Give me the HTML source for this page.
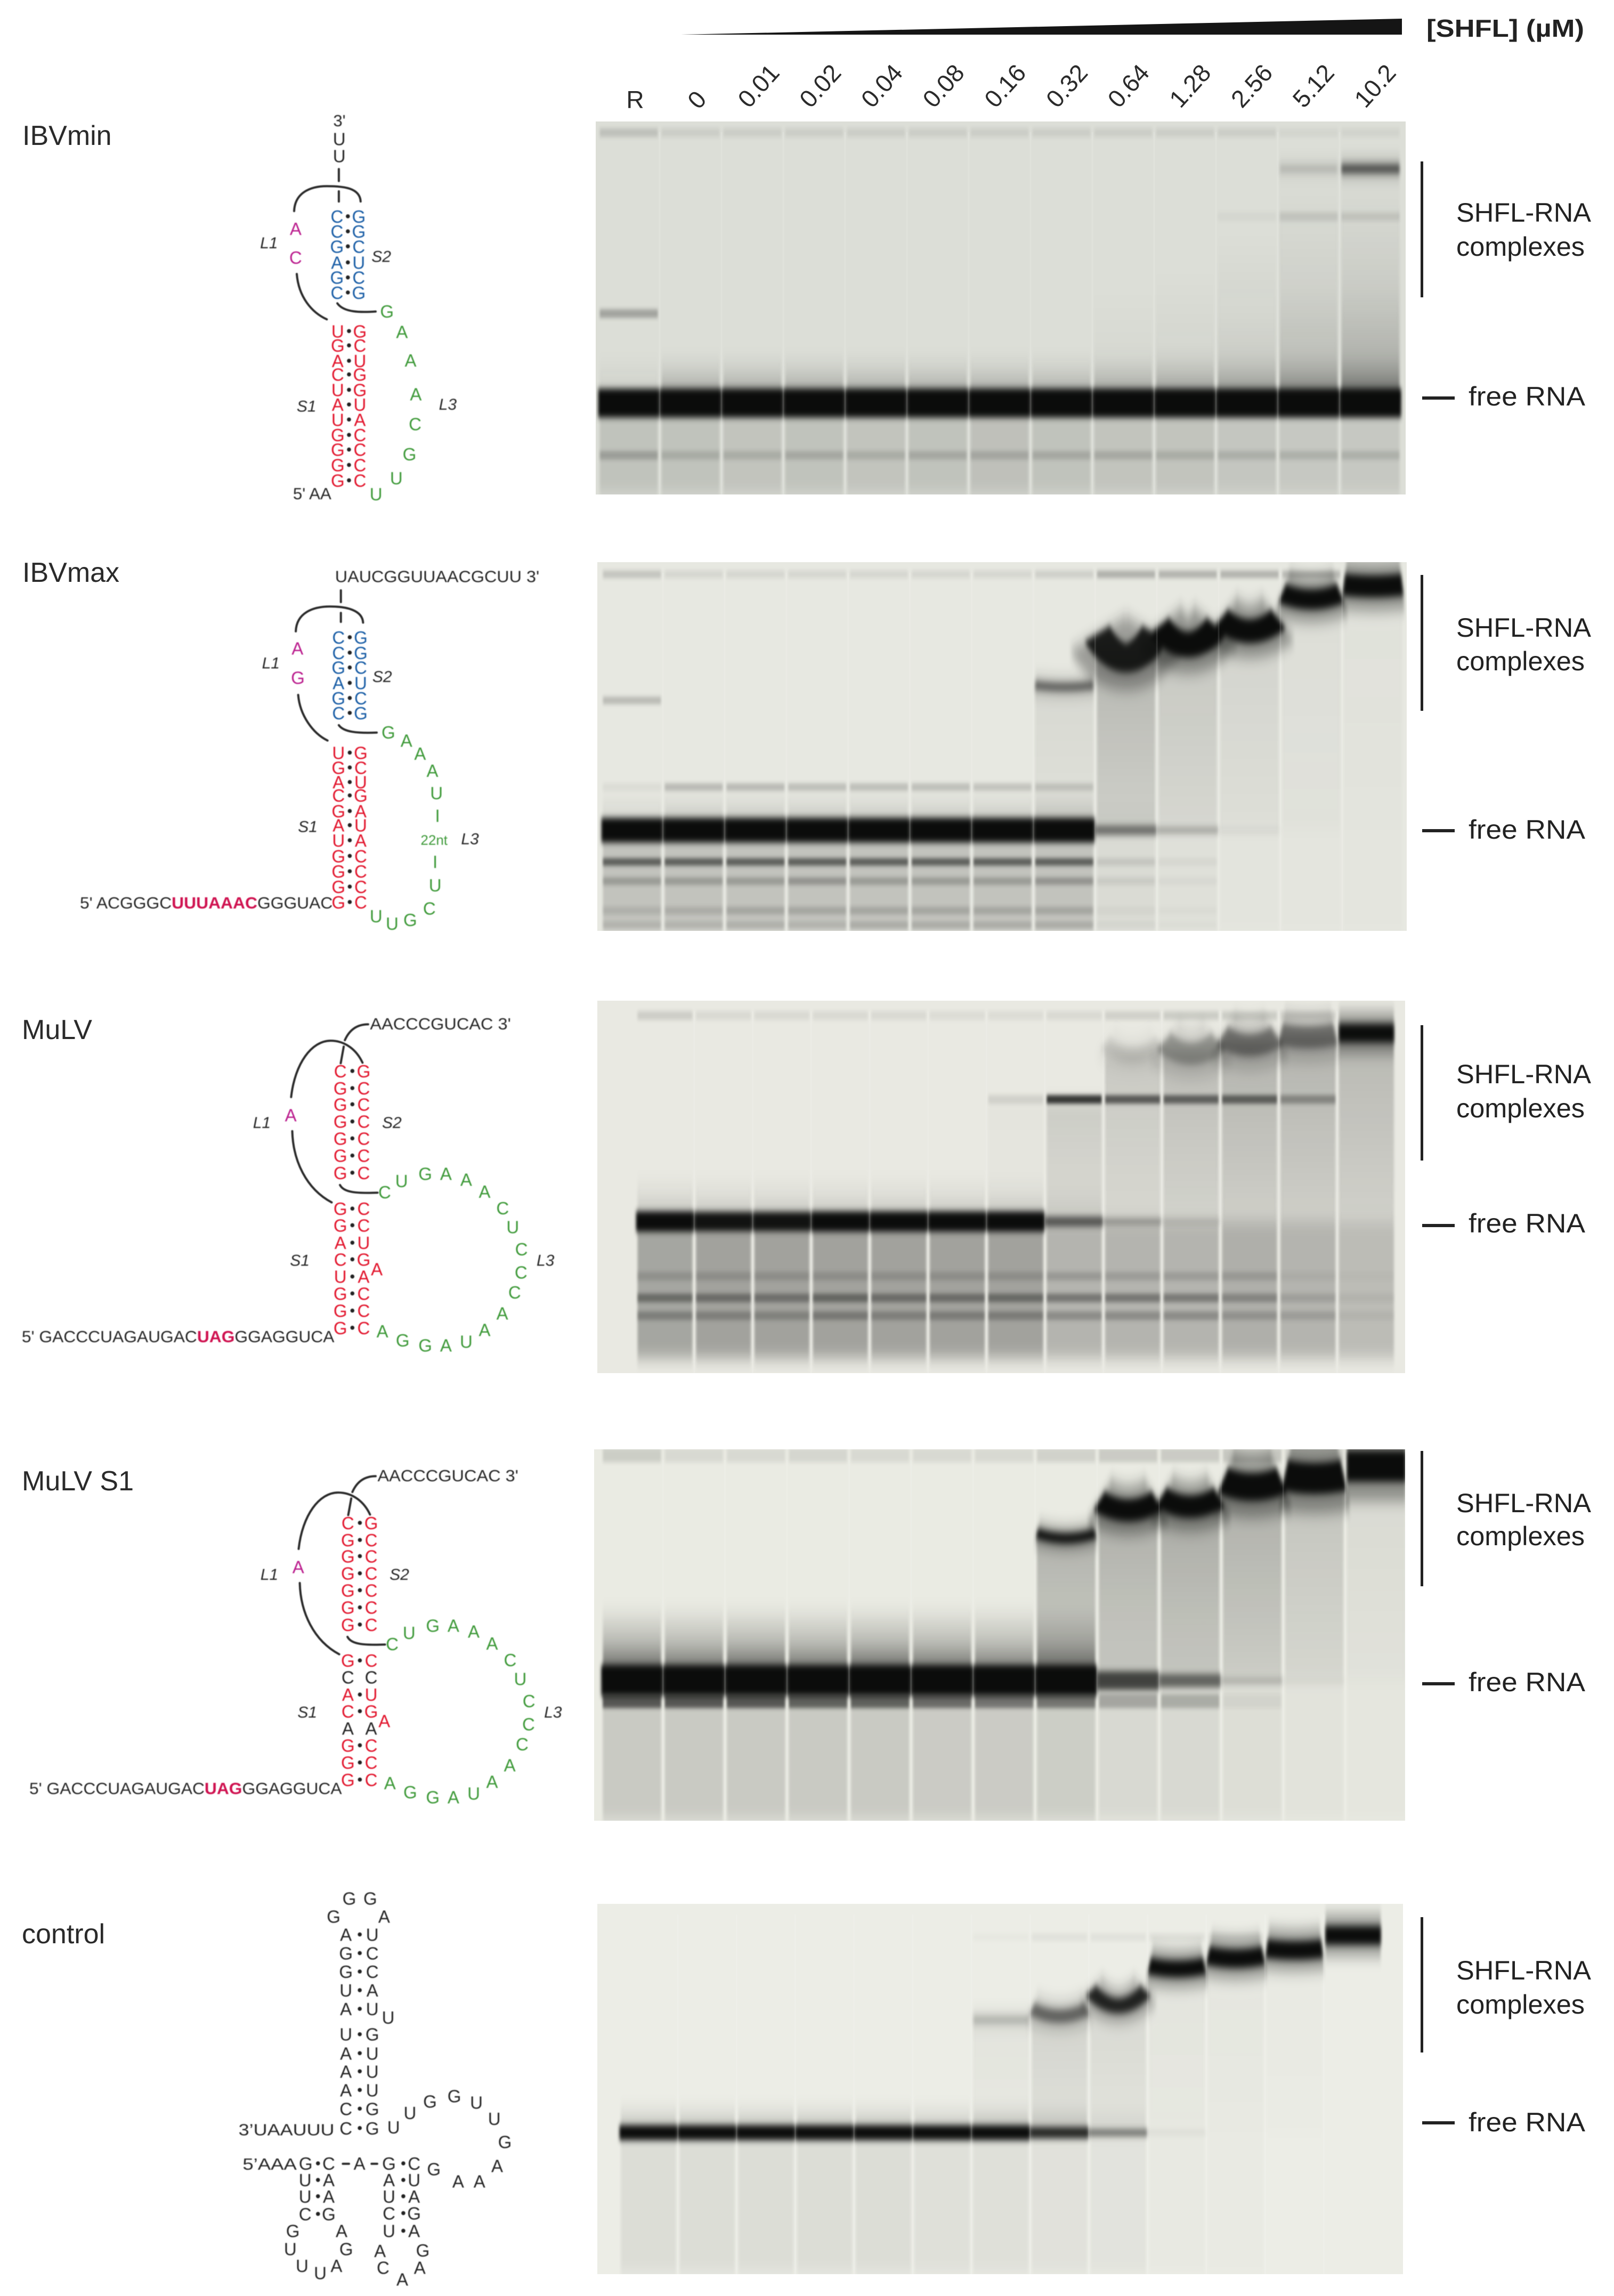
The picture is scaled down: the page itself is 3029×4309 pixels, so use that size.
<!DOCTYPE html>
<html lang="en">
<head>
<meta charset="utf-8">
<title>SHFL-RNA gel shift assays</title>
<style>
html,body{margin:0;padding:0;background:#fff;}
svg{display:block;font-family:"Liberation Sans",Arial,sans-serif;}
.ann{font-size:50px;fill:#222;}
.title{font-size:52px;fill:#2a2a2a;}
</style>
</head>
<body>
<svg id="figure" xmlns="http://www.w3.org/2000/svg" width="3029" height="4309" viewBox="0 0 3029 4309">
<defs>
<filter id="smearBlur" color-interpolation-filters="sRGB" filterUnits="userSpaceOnUse" x="0" y="0" width="3029" height="4309"><feGaussianBlur stdDeviation="2.5 14"/></filter>
<filter id="minorBlur" color-interpolation-filters="sRGB" filterUnits="userSpaceOnUse" x="0" y="0" width="3029" height="4309"><feGaussianBlur stdDeviation="2 4"/></filter>
<filter id="complexBlur" color-interpolation-filters="sRGB" filterUnits="userSpaceOnUse" x="0" y="0" width="3029" height="4309"><feGaussianBlur stdDeviation="3 7"/></filter>
<filter id="freeBlur" color-interpolation-filters="sRGB" filterUnits="userSpaceOnUse" x="0" y="0" width="3029" height="4309"><feGaussianBlur stdDeviation="3 6"/></filter>
<filter id="textSoft" color-interpolation-filters="sRGB" filterUnits="userSpaceOnUse" x="0" y="0" width="3029" height="4309"><feGaussianBlur stdDeviation="0.7"/></filter>
<linearGradient id="upFade" x1="0" y1="0" x2="0" y2="1"><stop offset="0" stop-color="#0b0c0b" stop-opacity="0"/><stop offset="0.5" stop-color="#0b0c0b" stop-opacity="0.3"/><stop offset="1" stop-color="#0b0c0b" stop-opacity="1"/></linearGradient>
<linearGradient id="downFade" x1="0" y1="0" x2="0" y2="1"><stop offset="0" stop-color="#0b0c0b" stop-opacity="1"/><stop offset="1" stop-color="#0b0c0b" stop-opacity="0.5"/></linearGradient>
</defs>
<rect x="0" y="0" width="3029" height="4309" fill="#ffffff"/>
<g id="gels"></g>
<g id="structures" filter="url(#textSoft)"></g>
<g id="ticks"></g>

<polygon points="1278,65 2631,35 2631,65" fill="#151515"/>
<text x="2677" y="69" font-size="46" font-weight="bold" fill="#222" textLength="296" lengthAdjust="spacingAndGlyphs">[SHFL] (µM)</text>

<text class="title" x="42" y="272">IBVmin</text>
<text class="title" x="42" y="1092">IBVmax</text>
<text class="title" x="41" y="1950">MuLV</text>
<text class="title" x="41" y="2797">MuLV S1</text>
<text class="title" x="41" y="3647">control</text>

<g>
<rect x="2666" y="303" width="5" height="255" fill="#222"/>
<text class="ann" x="2733" y="416" textLength="253" lengthAdjust="spacingAndGlyphs">SHFL-RNA</text>
<text class="ann" x="2733" y="480" textLength="241" lengthAdjust="spacingAndGlyphs">complexes</text>
<rect x="2669" y="744" width="61" height="6" fill="#222"/>
<text class="ann" x="2756" y="761" textLength="219" lengthAdjust="spacingAndGlyphs">free RNA</text>
</g>
<g>
<rect x="2666" y="1079" width="5" height="255" fill="#222"/>
<text class="ann" x="2733" y="1195" textLength="253" lengthAdjust="spacingAndGlyphs">SHFL-RNA</text>
<text class="ann" x="2733" y="1258" textLength="241" lengthAdjust="spacingAndGlyphs">complexes</text>
<rect x="2669" y="1556" width="61" height="6" fill="#222"/>
<text class="ann" x="2756" y="1574" textLength="219" lengthAdjust="spacingAndGlyphs">free RNA</text>
</g>
<g>
<rect x="2666" y="1924" width="5" height="254" fill="#222"/>
<text class="ann" x="2733" y="2033" textLength="253" lengthAdjust="spacingAndGlyphs">SHFL-RNA</text>
<text class="ann" x="2733" y="2097" textLength="241" lengthAdjust="spacingAndGlyphs">complexes</text>
<rect x="2669" y="2297" width="61" height="6" fill="#222"/>
<text class="ann" x="2756" y="2313" textLength="219" lengthAdjust="spacingAndGlyphs">free RNA</text>
</g>
<g>
<rect x="2666" y="2723" width="5" height="254" fill="#222"/>
<text class="ann" x="2733" y="2838" textLength="253" lengthAdjust="spacingAndGlyphs">SHFL-RNA</text>
<text class="ann" x="2733" y="2900" textLength="241" lengthAdjust="spacingAndGlyphs">complexes</text>
<rect x="2669" y="3157" width="61" height="6" fill="#222"/>
<text class="ann" x="2756" y="3174" textLength="219" lengthAdjust="spacingAndGlyphs">free RNA</text>
</g>
<g>
<rect x="2666" y="3598" width="5" height="254" fill="#222"/>
<text class="ann" x="2733" y="3715" textLength="253" lengthAdjust="spacingAndGlyphs">SHFL-RNA</text>
<text class="ann" x="2733" y="3779" textLength="241" lengthAdjust="spacingAndGlyphs">complexes</text>
<rect x="2669" y="3981" width="61" height="6" fill="#222"/>
<text class="ann" x="2756" y="4000" textLength="219" lengthAdjust="spacingAndGlyphs">free RNA</text>
</g>
</svg>

<script>
/* ---------- gel data: one value per lane (R, 0 ... 10.2) ---------- */
const concentrationLabels = ['R','0','0.01','0.02','0.04','0.08','0.16','0.32','0.64','1.28','2.56','5.12','10.2'];

/* IBVmin */
const ibvminFree        = [1,1,1,1,1,1,1,1,1,1,1,1,1];
const ibvminUpperSmear  = [.12,.42,.42,.42,.4,.4,.4,.38,.38,.4,.42,.5,.6];
const ibvminLowerSmear  = [.13,.13,.12,.13,.12,.13,.14,.13,.12,.12,.11,.1,.1];
const ibvminComplexMig  = [0,0,0,0,0,0,0,0,.45,.4,.3,.127,.127];
const ibvminComplexBand = [0,0,0,0,0,0,0,0,0,0,0,.16,.7];
const ibvminComplexThick= [0,0,0,0,0,0,0,0,0,0,0,.02,.02];
const ibvminComplexBow  = [0,0,0,0,0,0,0,0,0,0,0,0,0];
const ibvminTail        = [0,0,0,0,0,0,0,0,.06,.09,.13,.2,.28];
const ibvminBandMigs    = [.03,.255,.515,.895];
const ibvminWellBand    = [.14,.08,.08,.08,.08,.08,.08,.08,.08,.08,.08,.04,.05];
const ibvminSecondBand  = [0,0,0,0,0,0,0,0,0,0,.03,.1,.1];
const ibvminLadderBand  = [.28,0,0,0,0,0,0,0,0,0,0,0,0];
const ibvminLowerBand   = [.2,.13,.13,.15,.13,.15,.15,.15,.15,.13,.13,.13,.13];

/* IBVmax */
const ibvmaxFree        = [1,1,1,1,1,1,1,1,.5,.28,.05,0,0];
const ibvmaxUpperSmear  = [.15,.25,.25,.25,.25,.25,.25,.28,.05,0,0,0,0];
const ibvmaxLowerSmear  = [.17,.17,.17,.17,.17,.17,.17,.17,.06,.03,.015,.01,.01];
const ibvmaxComplexMig  = [0,0,0,0,0,0,0,.337,.235,.205,.175,.095,.064];
const ibvmaxComplexBand = [0,0,0,0,0,0,0,.6,.9,1,1,1,1];
const ibvmaxComplexThick= [0,0,0,0,0,0,0,.02,.08,.07,.065,.055,.06];
const ibvmaxComplexBow  = [0,0,0,0,0,0,0,.003,.04,.03,.02,.01,.003];
const ibvmaxTail        = [0,0,0,0,0,0,0,.07,.22,.15,.09,.05,.03];
const ibvmaxBandMigs    = [.033,.375,.61,.813,.865,.945,.985];
const ibvmaxWellBand    = [.16,.08,.08,.08,.08,.08,.08,.11,.25,.24,.24,.2,0];
const ibvmaxLadderBand  = [.2,0,0,0,0,0,0,0,0,0,0,0,0];
const ibvmaxUpperBand   = [.05,.2,.2,.18,.18,.18,.16,.14,0,0,0,0,0];
const ibvmaxLowerA      = [.55,.55,.55,.55,.55,.55,.55,.55,.1,.04,0,0,0];
const ibvmaxLowerB      = [.22,.22,.22,.26,.22,.22,.22,.26,.08,.03,0,0,0];
const ibvmaxLowerC      = [.1,.12,.16,.16,.16,.16,.16,.16,.03,.02,0,0,0];
const ibvmaxLowerD      = [.12,.12,.14,.12,.16,.16,.16,.16,.04,.02,0,0,0];

/* MuLV */
const mulvFree        = [1,.97,.97,1,1,1,1,.6,.32,.15,0,0,0];
const mulvUpperSmear  = [.22,.2,.2,.2,.2,.2,.2,.1,.02,0,0,0,0];
const mulvLowerSmear  = [.3,.32,.32,.32,.32,.32,.32,.24,.24,.24,.26,.24,.2];
const mulvComplexMig  = [0,0,0,0,0,0,.27,.27,.135,.13,.11,.095,.087];
const mulvComplexBand = [0,0,0,0,0,0,0,0,.1,.3,.45,.45,1];
const mulvComplexThick= [0,0,0,0,0,0,0,0,.04,.06,.06,.06,.05];
const mulvComplexBow  = [0,0,0,0,0,0,0,0,.02,.02,.015,.005,0];
const mulvTail        = [0,0,0,0,0,0,.02,.13,.15,.2,.24,.24,.22];
const mulvBandMigs    = [.04,.265,.74,.798,.846];
const mulvWellBand    = [.12,.07,.07,.07,.07,.06,.06,.07,.11,.13,.13,.11,0];
const mulvShiftBand   = [0,0,0,0,0,0,.1,.8,.6,.55,.55,.32,0];
const mulvLowerA      = [.14,.14,.14,.14,.14,.14,.14,.16,.14,.14,.14,.05,.02];
const mulvLowerB      = [.38,.36,.34,.4,.36,.36,.38,.36,.36,.34,.26,.12,.05];
const mulvLowerC      = [.26,.24,.22,.28,.24,.26,.26,.24,.24,.24,.18,.14,.05];

/* MuLV S1 */
const mulvs1Free        = [1,1,1,1,1,1,1,1,.72,.55,.18,.03,0];
const mulvs1UpperSmear  = [.75,.7,.75,.7,.75,.7,.65,.7,.05,.03,0,0,0];
const mulvs1LowerSmear  = [.15,.15,.15,.15,.15,.14,.14,.13,.08,.08,.06,.03,.02];
const mulvs1ComplexMig  = [0,0,0,0,0,0,0,.235,.155,.145,.095,.075,.045];
const mulvs1ComplexBand = [0,0,0,0,0,0,0,1,1,1,1,1,1];
const mulvs1ComplexThick= [0,0,0,0,0,0,0,.026,.06,.06,.075,.085,.085];
const mulvs1ComplexBow  = [0,0,0,0,0,0,0,.008,.015,.015,.01,.005,0];
const mulvs1Tail        = [0,0,0,0,0,0,0,.25,.27,.29,.27,.18,.08];
const mulvs1BandMigs    = [.016,.678];
const mulvs1WellBand    = [.13,.08,.08,.09,.08,.08,.08,.11,.14,.14,.16,.1,0];
const mulvs1LowerBand   = [.6,.6,.6,.55,.55,.5,.45,.45,.25,.22,.05,0,0];

/* control */
const controlFree        = [1,1,1,1,1,1,1,.85,.55,.08,0,0,0];
const controlUpperSmear  = [.3,.3,.3,.3,.3,.25,.3,.25,.1,0,0,0,0];
const controlLowerSmear  = [.07,.07,.07,.07,.07,.06,.06,.05,.04,.015,.01,0,0];
const controlComplexMig  = [0,0,0,0,0,0,.313,.296,.26,.173,.145,.124,.085];
const controlComplexBand = [0,0,0,0,0,0,.22,.5,.85,1,1,1,1];
const controlComplexThick= [0,0,0,0,0,0,.02,.035,.04,.045,.05,.05,.05];
const controlComplexBow  = [0,0,0,0,0,0,0,.012,.025,.005,.005,.003,0];
const controlTail        = [0,0,0,0,0,0,.04,.11,.09,.04,.03,.015,0];
const controlBandMigs    = [.09];
const controlWellBand    = [0,0,0,0,0,0,.02,.05,.05,.06,.05,0,0];

/* ---------- gel layout ---------- */
const gels = [
 {name:'ibvmin',  x:1118,y:228, w:1520,h:700,bg:'#dcded7',laneStart:1180,laneStep:116,  freeMig:.755,freeThick:54,upSpan:90, smearEnd:1,bandH:16,tailFill:'url(#upFade)',
  free:ibvminFree,upper:ibvminUpperSmear,lower:ibvminLowerSmear,cMig:ibvminComplexMig,cBand:ibvminComplexBand,cThick:ibvminComplexThick,cBow:ibvminComplexBow,tail:ibvminTail,
  migs:ibvminBandMigs,bands:[ibvminWellBand,ibvminSecondBand,ibvminLadderBand,ibvminLowerBand]},
 {name:'ibvmax',  x:1121,y:1055,w:1519,h:692,bg:'#e7e8e1',laneStart:1186,laneStep:115.9,freeMig:.727,freeThick:46,upSpan:75, smearEnd:1,bandH:14,tailFill:'url(#downFade)',
  free:ibvmaxFree,upper:ibvmaxUpperSmear,lower:ibvmaxLowerSmear,cMig:ibvmaxComplexMig,cBand:ibvmaxComplexBand,cThick:ibvmaxComplexThick,cBow:ibvmaxComplexBow,tail:ibvmaxTail,
  migs:ibvmaxBandMigs,bands:[ibvmaxWellBand,ibvmaxLadderBand,ibvmaxUpperBand,ibvmaxLowerA,ibvmaxLowerB,ibvmaxLowerC,ibvmaxLowerD]},
 {name:'mulv',    x:1121,y:1878,w:1516,h:699,bg:'#e9e9e2',laneStart:1248,laneStep:109.7,freeMig:.593,freeThick:38,upSpan:85, smearEnd:.96,bandH:16,tailFill:'url(#downFade)',
  free:mulvFree,upper:mulvUpperSmear,lower:mulvLowerSmear,cMig:mulvComplexMig,cBand:mulvComplexBand,cThick:mulvComplexThick,cBow:mulvComplexBow,tail:mulvTail,
  migs:mulvBandMigs,bands:[mulvWellBand,mulvShiftBand,mulvLowerA,mulvLowerB,mulvLowerC]},
 {name:'mulv-s1', x:1115,y:2720,w:1522,h:697,bg:'#eaebe3',laneStart:1186,laneStep:116.4,freeMig:.623,freeThick:58,upSpan:140,smearEnd:1,bandH:26,tailFill:'url(#downFade)',
  free:mulvs1Free,upper:mulvs1UpperSmear,lower:mulvs1LowerSmear,cMig:mulvs1ComplexMig,cBand:mulvs1ComplexBand,cThick:mulvs1ComplexThick,cBow:mulvs1ComplexBow,tail:mulvs1Tail,
  migs:mulvs1BandMigs,bands:[mulvs1WellBand,mulvs1LowerBand]},
 {name:'control', x:1121,y:3573,w:1512,h:695,bg:'#ecede6',laneStart:1217,laneStep:110.2,freeMig:.618,freeThick:28,upSpan:55, smearEnd:1,bandH:14,tailFill:'url(#downFade)',
  free:controlFree,upper:controlUpperSmear,lower:controlLowerSmear,cMig:controlComplexMig,cBand:controlComplexBand,cThick:controlComplexThick,cBow:controlComplexBow,tail:controlTail,
  migs:controlBandMigs,bands:[controlWellBand]}
];

const SVGNS = 'http://www.w3.org/2000/svg';
const DARK = '#0b0c0b';
function svgEl(tag, attrs, parent){
  const el = document.createElementNS(SVGNS, tag);
  for (const k in attrs) el.setAttribute(k, attrs[k]);
  parent.appendChild(el);
  return el;
}
/* axis functions */
function laneX(gel, i){ return gel.laneStart + i * gel.laneStep; }
function migY(gel, m){ return gel.y + m * gel.h; }
function shade(v){ return Math.max(0, Math.min(1, v)); }

function drawGel(gel){
  const root = document.getElementById('gels');
  const g = svgEl('g', {}, root);
  
  
  const bg = svgEl('rect', {x:gel.x, y:gel.y, width:gel.w, height:gel.h, fill:gel.bg}, g);
  
  

  const clipId = 'clip-' + gel.name;
  const cp = svgEl('clipPath', {id:clipId}, g);
  svgEl('rect', {x:gel.x, y:gel.y, width:gel.w, height:gel.h}, cp);
  const clipper = svgEl('g', {'clip-path':'url(#' + clipId + ')'}, g);

  const smearLayer = svgEl('g', {filter:'url(#smearBlur)'}, clipper);
  const minorLayer = svgEl('g', {filter:'url(#minorBlur)'}, clipper);
  const complexLayer = svgEl('g', {filter:'url(#complexBlur)'}, clipper);
  const freeLayer = svgEl('g', {filter:'url(#freeBlur)'}, clipper);
  const laneW = gel.laneStep * 0.94;
  const freeTop = migY(gel, gel.freeMig);

  concentrationLabels.forEach(function(label, i){
    const cx = laneX(gel, i);
    if (gel.lower[i] > 0){
      const endY = migY(gel, gel.smearEnd);
      const r = svgEl('rect', {x:cx-laneW/2, y:freeTop, width:laneW, height:endY-freeTop, fill:DARK, opacity:shade(gel.lower[i])}, smearLayer);
      
      
    }
    if (gel.tail[i] > 0){
      const ty = migY(gel, gel.cMig[i]);
      const r = svgEl('rect', {x:cx-laneW/2, y:ty, width:laneW, height:freeTop-ty, fill:gel.tailFill, opacity:shade(gel.tail[i])}, smearLayer);
      
      
    }
    if (gel.upper[i] > 0){
      const r = svgEl('rect', {x:cx-laneW/2, y:freeTop-gel.upSpan, width:laneW, height:gel.upSpan, fill:'url(#upFade)', opacity:shade(gel.upper[i])}, smearLayer);
      
      
    }
    gel.bands.forEach(function(values, b){
      if (values[i] <= 0) return;
      const r = svgEl('rect', {x:cx-laneW/2, y:migY(gel, gel.migs[b])-gel.bandH/2, width:laneW, height:gel.bandH, fill:DARK, opacity:shade(values[i])}, minorLayer);
      
      
    });
    if (gel.cBand[i] > 0){
      const y = migY(gel, gel.cMig[i]);
      const bow = gel.cBow[i] * gel.h;
      const d = 'M' + (cx-laneW/2) + ' ' + (y-bow) + ' Q' + cx + ' ' + (y+2.2*bow) + ' ' + (cx+laneW/2) + ' ' + (y-bow);
      const halo = svgEl('path', {d:d, fill:'none', stroke:DARK, 'stroke-width':gel.cThick[i]*gel.h*2.2, opacity:shade(gel.cBand[i]*0.38)}, smearLayer);
      
      
      const p = svgEl('path', {d:d, fill:'none', stroke:DARK, 'stroke-width':gel.cThick[i]*gel.h, opacity:shade(gel.cBand[i])}, complexLayer);
      
      
    }
    if (gel.free[i] > 0){
      const v = gel.free[i];
      const h = gel.freeThick * (0.2 + 0.8 * v * v);
      const w = gel.laneStep * 0.99;
      const r = svgEl('rect', {x:cx-w/2, y:freeTop-h/2, width:w, height:h, fill:DARK, opacity:shade(v)}, freeLayer);
      
      
    }
  });

  concentrationLabels.forEach(function(label, i){
    if (i === 0) return;
    const x = laneX(gel, i) - gel.laneStep/2;
    const l = svgEl('line', {x1:x, x2:x, y1:gel.y+20, y2:gel.y+gel.h, stroke:'#ffffff', 'stroke-width':3, opacity:0.12}, clipper);
    
    
  });
}
gels.forEach(drawGel);

/* concentration tick labels */
(function(){
  const root = document.getElementById('ticks');
  concentrationLabels.forEach(function(label, i){
    const x = 1192 + i * 115.7;
    const y = (i < 2) ? 187 : 161;
    const rot = (i === 0) ? 0 : -48;
    const t = svgEl('text', {x:x, y:y, 'text-anchor':'middle', 'dominant-baseline':'central', 'font-size':46, fill:'#2a2a2a', transform:'rotate(' + rot + ' ' + x + ' ' + y + ')'}, root);
    t.textContent = label;
    
    
  });
})();

/* ---------- RNA secondary structures ---------- */
const BLUE = '#1a5ea6', RED = '#e2152c', PINK = '#bb1e8e', GREEN = '#3f9a3a', INK = '#262626', CRIMSON = '#cf1250';

function frame(x0, y0, xs, ys, parentName){
  const root = document.getElementById('structures');
  const g = svgEl('g', {}, root);
  
  
  const X = function(v){ return x0 + v * xs; };
  const Y = function(v){ return y0 + v * ys; };
  return {
    g:g, X:X, Y:Y,
    nt:function(ch, x, y, color, size){
      const t = svgEl('text', {x:X(x), y:Y(y), 'text-anchor':'middle', 'font-size':size||33, fill:color}, g);
      t.textContent = ch;
      
      
    },
    label:function(str, x, y){
      const t = svgEl('text', {x:X(x), y:Y(y), 'text-anchor':'middle', 'font-size':30, 'font-style':'italic', fill:INK}, g);
      t.textContent = str;
      
      
    },
    plain:function(str, x, y, len){
      const t = svgEl('text', {x:X(x), y:Y(y), 'font-size':31, fill:INK, textLength:len*xs, lengthAdjust:'spacingAndGlyphs'}, g);
      t.textContent = str;
      
      
    },
    seq:function(a, b, c, x, y, len){
      const t = svgEl('text', {x:X(x), y:Y(y), 'font-size':31, fill:INK, textLength:len*xs, lengthAdjust:'spacingAndGlyphs'}, g);
      
      
      svgEl('tspan', {}, t).textContent = a;
      svgEl('tspan', {'font-weight':'bold', fill:CRIMSON}, t).textContent = b;
      svgEl('tspan', {}, t).textContent = c;
    },
    curve:function(d){
      const s = d.replace(/(-?\d+(?:\.\d+)?) (-?\d+(?:\.\d+)?)/g, function(m, a, b){ return X(+a) + ' ' + Y(+b); });
      const p = svgEl('path', {d:s, fill:'none', stroke:'#2a2a2a', 'stroke-width':4, 'stroke-linecap':'round'}, g);
      
      
    },
    stem:function(left, right, lx, rx, dx, rows, color, size, letterMid){
      for (let i = 0; i < rows.length; i++){
        const lc = (color === RED && this.black && this.black.indexOf(i) >= 0) ? INK : color;
        this.nt(left[i], lx, rows[i], lc, size);
        this.nt(right[i], rx, rows[i], lc, size);
        if (lc === INK && color === RED) continue;
        const dot = svgEl('circle', {cx:X(dx), cy:Y(rows[i]) - (letterMid||12), r:3.8, fill:'#222'}, g);
        
        
      }
    },
    loop:function(letters, pts, color, size){
      for (let i = 0; i < letters.length; i++) this.nt(letters[i], pts[i][0], pts[i][1], color, size);
    }
  };
}

/* IBVmin hairpin */
(function(){
  const f = frame(0, 0, 0.705, 0.641, 'ibvmin-structure');
  f.plain("3'", 887, 370, 33);
  f.nt('U', 903, 425, INK);
  f.nt('U', 903, 475, INK);
  f.curve('M902 495 L902 530');
  f.curve('M902 560 L902 590');
  f.curve('M783 618 C785 565 825 545 870 545 C915 545 958 550 960 590');
  f.curve('M790 802 C795 870 830 915 870 935');
  f.curve('M898 888 C915 915 960 915 1000 912');
  f.stem('CCGAGC', 'GGCUCG', 897, 955, 926, [652,696,740,787,831,875], BLUE);
  f.nt('A', 787, 688, PINK);
  f.nt('C', 787, 772, PINK);
  f.stem('UGACUAUGGGG', 'GCUGGUACCCC', 899, 958, 929, [988,1030,1075,1115,1160,1203,1247,1292,1335,1380,1425], RED);
  f.loop('GAAACGUU', [[1030,930],[1070,990],[1093,1073],[1107,1172],[1105,1260],[1090,1348],[1055,1418],[1001,1465]], GREEN);
  f.label('L1', 716, 727);
  f.label('S2', 1015, 767);
  f.label('S1', 816, 1205);
  f.label('L3', 1192, 1200);
  f.plain("5' AA", 780, 1462, 102);
})();

/* IBVmax hairpin */
(function(){
  const f = frame(100, 1030, 0.641, 0.481, 'ibvmax-structure');
  f.plain("UAUCGGUUAACGCUU  3'", 825, 130, 598);
  f.curve('M842 162 L842 208');
  f.curve('M842 250 L842 285');
  f.curve('M710 322 C712 250 760 225 810 225 C860 225 905 240 907 288');
  f.curve('M717 570 C722 650 760 720 803 748');
  f.curve('M836 688 C850 715 890 720 947 717');
  f.stem('CCGAGC', 'GGCUCG', 835, 900, 868, [370,430,488,548,607,665], BLUE);
  f.nt('A', 715, 413, PINK);
  f.nt('G', 716, 527, PINK);
  f.stem('UGACGAUGGGG', 'GCUGAUACCCC', 835, 900, 868, [820,878,935,987,1048,1103,1162,1223,1283,1343,1403], RED);
  f.loop('GAAAUIIUCGUU', [[981,740],[1034,772],[1074,823],[1110,890],[1122,977],[1125,1065],[1118,1245],[1118,1337],[1101,1427],[1045,1472],[992,1487],[945,1457]], GREEN);
  f.nt('22nt', 1115, 1155, GREEN, 26);
  f.label('L1', 637, 467);
  f.label('S2', 963, 520);
  f.label('S1', 745, 1105);
  f.label('L3', 1220, 1153);
  f.seq("5' ACGGGC", 'UUUAAAC', 'GGGUAC', 78, 1403, 740);
})();

/* MuLV and MuLV S1 pseudoknots */
function mulvStructure(x0, y0, name, lowerLeft, blackRows){
  const f = frame(x0, y0, 0.705, 0.481, name);
  f.plain("AACCCGUCAC 3'", 985, 108, 375);
  f.curve('M918 150 C930 110 950 88 980 88');
  f.curve('M915 175 L907 240');
  f.curve('M775 372 C785 240 830 152 880 152 C920 152 950 190 965 238');
  f.curve('M778 505 C780 620 815 730 883 783');
  f.curve('M905 715 C915 745 950 748 1005 745');
  f.stem('CGGGGGG', 'GCCCCCC', 906, 968, 938, [295,362,425,492,558,625,692], RED);
  f.nt('A', 774, 467, PINK);
  f.black = blackRows;
  f.stem(lowerLeft, 'CCUGACCC', 906, 968, 938, [832,897,965,1030,1097,1163,1230,1297], RED);
  f.black = null;
  f.nt('A', 1003, 1068, RED);
  f.loop('CUGAAACUCCCAAUAGGA', [[1024,767],[1069,723],[1132,695],[1187,695],[1241,718],[1290,765],[1338,830],[1365,903],[1388,990],[1387,1080],[1370,1158],[1337,1240],[1290,1305],[1241,1350],[1187,1365],[1132,1365],[1072,1345],[1018,1310]], GREEN);
  f.label('L1', 697, 493);
  f.label('S2', 1043, 493);
  f.label('S1', 798, 1030);
  f.label('L3', 1452, 1030);
  f.seq("5' GACCCUAGAUGAC", 'UAG', 'GGAGGUCA', 58, 1328, 832);
}
mulvStructure(0, 1880, 'mulv-structure', 'GGACUGGG', []);
mulvStructure(14.1, 2728, 'mulv-s1-structure', 'GCACAGGG', [1,4]);

/* control structure */
(function(){
  const f = frame(350, 3550, 0.481, 0.4865, 'control-structure');
  f.loop('GGGA', [[635,50],[717,50],[574,120],[771,120]], INK);
  f.stem('AGGUAUAAACC', 'UCCAUGUUUGG', 622, 725, 676, [190,262,333,405,477,575,648,718,790,862,937], INK);
  f.nt('U', 787, 510, INK);
  f.plain("3\u2019UAAUUU", 203, 940, 374);
  f.loop('UUGGUUGAAAG', [[808,933],[872,878],[950,833],[1045,813],[1131,838],[1201,900],[1242,990],[1212,1082],[1143,1142],[1060,1142],[965,1095]], INK);
  f.plain("5\u2019AAA", 219, 1073, 211);
  f.stem('G', 'C', 465, 555, 513, [1073], INK);
  f.nt('A', 675, 1073, INK);
  f.stem('G', 'C', 790, 888, 846, [1073], INK);
  f.curve('M610 1050 L634 1050');
  f.curve('M722 1050 L744 1050');
  f.stem('UUC', 'AAG', 463, 555, 513, [1137,1200,1268], INK);
  f.stem('AUCU', 'UAGA', 790, 888, 846, [1137,1200,1265,1333], INK);
  f.loop('GAUGUUA', [[415,1333],[605,1333],[405,1403],[623,1403],[451,1468],[522,1495],[585,1468]], INK);
  f.loop('AGCAA', [[755,1410],[922,1408],[767,1475],[910,1475],[842,1520]], INK);
})();
</script>
</body>
</html>
